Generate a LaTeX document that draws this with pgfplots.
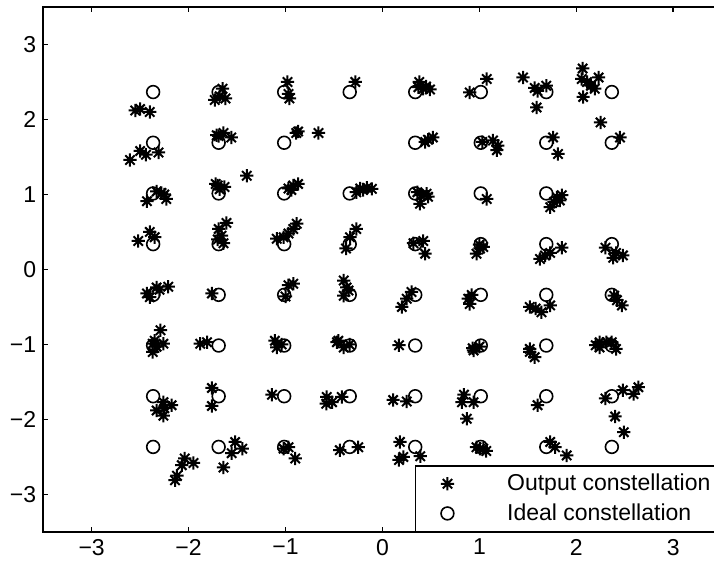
\documentclass[border=0pt]{standalone}
\usepackage{fontspec}
\setmainfont{Liberation Sans}
\usepackage{pgfplots}
\pgfplotsset{compat=1.18}

% MATLAB-like asterisk: + and x overlaid
\pgfdeclareplotmark{mstar}{%
  \pgfpathmoveto{\pgfqpoint{-\pgfplotmarksize}{0pt}}%
  \pgfpathlineto{\pgfqpoint{\pgfplotmarksize}{0pt}}%
  \pgfpathmoveto{\pgfqpoint{0pt}{-\pgfplotmarksize}}%
  \pgfpathlineto{\pgfqpoint{0pt}{\pgfplotmarksize}}%
  \pgfpathmoveto{\pgfqpoint{-0.7071\pgfplotmarksize}{-0.7071\pgfplotmarksize}}%
  \pgfpathlineto{\pgfqpoint{0.7071\pgfplotmarksize}{0.7071\pgfplotmarksize}}%
  \pgfpathmoveto{\pgfqpoint{-0.7071\pgfplotmarksize}{0.7071\pgfplotmarksize}}%
  \pgfpathlineto{\pgfqpoint{0.7071\pgfplotmarksize}{-0.7071\pgfplotmarksize}}%
  \pgfusepathqstroke}

\newcommand{\lblfont}{\fontsize{11.5}{13}\selectfont}

\begin{document}
\begin{tikzpicture}
\begin{axis}[
    scale only axis,
    width=339.3pt, height=262.5pt,
    xmin=-3.5, xmax=3.5, ymin=-3.5, ymax=3.5,
    xtick={-3,-2,...,3}, ytick={-3,-2,...,3},
    xticklabels={−3,−2,−1,0,1,2,3},
    yticklabels={−3,−2,−1,0,1,2,3},
    tick align=inside,
    major tick length=2.5pt,
    axis line style={line width=0.8pt},
    every tick/.style={black, line width=0.8pt},
    tick label style={font=\lblfont},
    legend cell align=left,
    legend style={
        at={(0.548,0)}, anchor=south west,
        draw=black, line width=0.7pt, font=\lblfont,
        inner xsep=5pt, inner ysep=2.5pt, row sep=2pt,
        nodes={inner sep=1.5pt},
        /tikz/every odd column/.append style={column sep=17.5pt}
    },
    legend image code/.code={
        \path (0pt,0pt) (21pt,0pt);
        \draw[#1, only marks] plot coordinates {(10.5pt,0pt)};
    },
]
% output constellation
\addplot[only marks, mark=mstar, mark size=3.3pt,
         mark options={line width=1pt, black}] table {
x y
-2.55 2.12
-2.50 2.14
-2.40 2.10
-1.65 2.41
-1.73 2.26
-1.62 2.28
-1.68 2.31
-0.98 2.50
-0.96 2.28
-0.97 2.34
-0.28 2.50
0.38 2.50
0.42 2.41
0.49 2.40
0.37 2.43
0.45 2.44
0.90 2.36
1.075 2.54
1.45 2.56
1.57 2.42
1.69 2.45
1.59 2.16
1.60 2.38
2.065 2.68
2.055 2.54
2.11 2.50
2.23 2.56
2.19 2.41
2.07 2.30
2.15 2.45
2.25 1.96
-2.50 1.58
-2.605 1.46
-2.44 1.53
-2.31 1.56
-1.71 1.79
-1.64 1.82
-1.56 1.76
-1.69 1.78
-0.87 1.84
-0.89 1.82
-0.66 1.82
0.44 1.70
0.52 1.76
0.47 1.73
1.03 1.70
1.14 1.72
1.19 1.65
1.18 1.59
1.76 1.76
1.81 1.54
2.45 1.76
-1.40 1.25
-2.33 1.04
-2.28 1.02
-2.23 0.94
-2.43 0.91
-2.25 1.00
-1.72 1.14
-1.63 1.10
-1.68 1.07
-1.70 1.12
-0.92 1.12
-0.87 1.14
-0.97 1.08
-0.94 1.06
-0.23 1.08
-0.16 1.09
-0.11 1.075
-0.27 1.03
-0.20 1.06
0.40 0.99
0.455 1.01
0.387 0.876
0.36 1.03
0.47 0.97
1.075 0.94
1.80 0.96
1.83 0.92
1.73 0.83
1.77 0.90
1.85 0.99
-2.40 0.50
-2.52 0.38
-2.35 0.43
-1.61 0.62
-1.69 0.54
-1.66 0.45
-1.64 0.35
-1.70 0.40
-1.09 0.41
-0.92 0.54
-0.885 0.61
-1.02 0.43
-0.97 0.48
-0.27 0.54
-0.335 0.43
-0.376 0.28
0.42 0.38
0.44 0.21
0.32 0.35
1.006 0.28
1.04 0.30
0.97 0.21
1.00 0.33
1.85 0.29
1.677 0.187
1.625 0.14
1.73 0.22
2.30 0.29
2.38 0.156
2.48 0.187
2.41 0.22
-2.33 -0.24
-2.21 -0.23
-2.43 -0.32
-2.30 -0.27
-2.40 -0.37
-1.76 -0.32
-0.97 -0.21
-0.92 -0.19
-1.00 -0.36
-0.40 -0.147
-0.35 -0.28
-0.40 -0.35
-0.37 -0.24
0.30 -0.30
0.25 -0.39
0.20 -0.50
0.885 -0.39
0.90 -0.46
0.92 -0.34
1.52 -0.50
1.64 -0.57
1.73 -0.48
1.58 -0.52
2.42 -0.41
2.47 -0.48
2.39 -0.35
-2.29 -0.81
-2.35 -0.95
-2.26 -0.99
-2.37 -1.10
-2.37 -0.99
-2.33 -1.03
-1.88 -0.99
-1.81 -0.97
-1.11 -0.95
-1.04 -1.00
-1.09 -1.04
-0.455 -0.95
-0.47 -0.97
-0.40 -1.04
-0.34 -1.00
0.17 -1.01
0.93 -1.05
0.94 -1.08
1.00 -1.03
1.52 -1.06
1.52 -1.10
1.57 -1.17
2.24 -0.97
2.365 -0.97
2.20 -1.01
2.24 -1.04
2.31 -0.97
2.41 -1.06
-2.26 -1.77
-2.175 -1.81
-2.33 -1.88
-2.26 -1.95
-2.25 -1.85
-1.76 -1.58
-1.76 -1.82
-1.14 -1.67
-0.575 -1.70
-0.52 -1.77
-0.42 -1.70
-0.58 -1.79
0.11 -1.74
0.25 -1.76
0.84 -1.67
0.94 -1.77
0.82 -1.77
0.87 -1.99
1.60 -1.81
2.30 -1.72
2.48 -1.61
2.59 -1.66
2.64 -1.57
2.40 -1.96
2.49 -2.17
-2.04 -2.52
-2.07 -2.61
-1.95 -2.58
-2.12 -2.75
-2.14 -2.81
-1.52 -2.30
-1.556 -2.45
-1.446 -2.39
-1.64 -2.64
-1.02 -2.39
-0.90 -2.52
-0.97 -2.37
-0.44 -2.41
-0.25 -2.37
0.18 -2.30
0.215 -2.50
0.39 -2.49
0.17 -2.54
1.006 -2.39
0.97 -2.37
1.07 -2.42
1.04 -2.39
1.73 -2.30
1.78 -2.37
1.90 -2.48
};
\addlegendentry{Output constellation}
% ideal constellation
\addplot[only marks, mark=o, mark size=3.2pt,
         mark options={line width=0.8pt, black}] table {
x y
-2.366 2.366
-1.690 2.366
-1.014 2.366
-0.338 2.366
0.338 2.366
1.014 2.366
1.690 2.366
2.366 2.366
-2.366 1.690
-1.690 1.690
-1.014 1.690
0.338 1.690
1.014 1.690
1.690 1.690
2.366 1.690
-2.366 1.014
-1.690 1.014
-1.014 1.014
-0.338 1.014
0.338 1.014
1.014 1.014
1.690 1.014
-2.366 0.338
-1.690 0.338
-1.014 0.338
-0.338 0.338
0.338 0.338
1.014 0.338
1.690 0.338
2.366 0.338
-2.366 -0.338
-1.690 -0.338
-1.014 -0.338
-0.338 -0.338
0.338 -0.338
1.014 -0.338
1.690 -0.338
2.366 -0.338
-2.366 -1.014
-1.690 -1.014
-1.014 -1.014
-0.338 -1.014
0.338 -1.014
1.014 -1.014
1.690 -1.014
2.366 -1.014
-2.366 -1.690
-1.690 -1.690
-1.014 -1.690
-0.338 -1.690
0.338 -1.690
1.014 -1.690
1.690 -1.690
2.366 -1.690
-2.366 -2.366
-1.690 -2.366
-1.014 -2.366
-0.338 -2.366
0.338 -2.366
1.014 -2.366
1.690 -2.366
2.366 -2.366
};
\addlegendentry{Ideal constellation}
\coordinate (bbSW) at (axis cs:-3.5,-3.5);
\coordinate (bbNE) at (axis cs:3.42,3.5);
\end{axis}
\pgfresetboundingbox
\useasboundingbox ([xshift=-21.6pt,yshift=-18.75pt]bbSW) rectangle ([yshift=3.5pt]bbNE);
\end{tikzpicture}
\end{document}
